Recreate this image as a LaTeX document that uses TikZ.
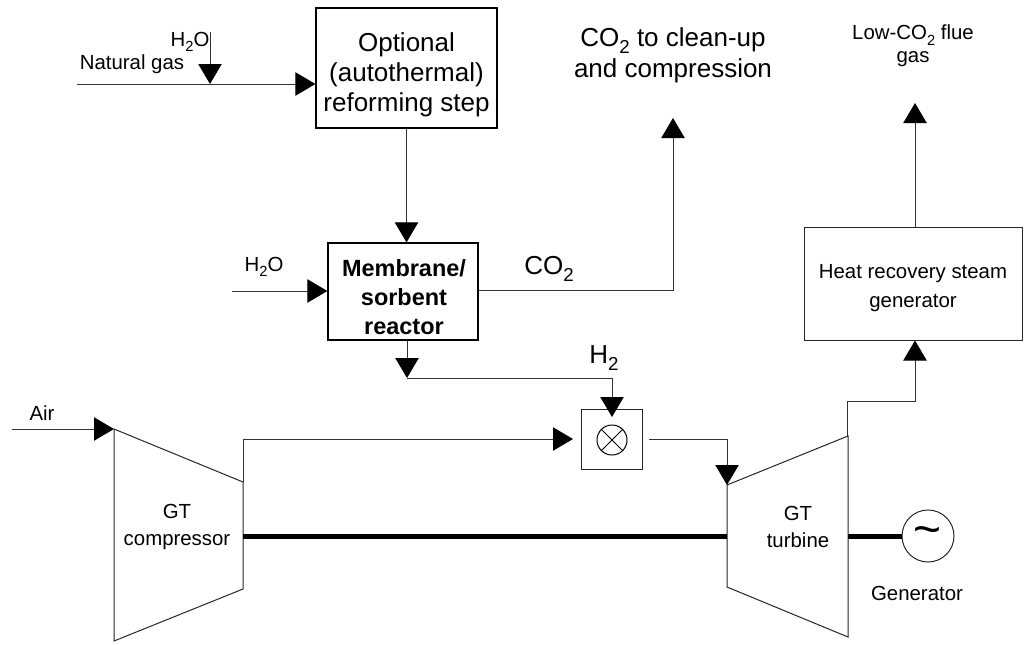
\documentclass[tikz,border=0pt]{standalone}
\usepackage{fontspec}
\setmainfont{Liberation Sans}
\usetikzlibrary{arrows.meta}
% chemical subscript, set low as in the flow-sheet labels
\newcommand\dn[1]{\raisebox{-0.28em}{\scalebox{0.72}{#1}}}
\begin{document}
\begin{tikzpicture}[x=0.75pt,y=-0.75pt,
  flow/.style={draw=black!80,line width=0.75pt,-{Triangle[length=15pt,width=17.5pt,color=black]}},
  unit/.style={draw=black,line width=0.9pt,inner sep=0pt},
  thin unit/.style={draw=black!85,line width=0.75pt,inner sep=0pt},
  machine/.style={draw=black!85,line width=0.75pt},
  small/.style={font=\fontsize{15.3}{20}\selectfont,align=center},
  big/.style={font=\fontsize{19.5}{22.5}\selectfont,align=center},
  shaft/.style={line width=3.75pt}]
\useasboundingbox (0,0) rectangle (1024,644);

% process units
\node[unit,minimum width=135.75pt,minimum height=90pt] (reformer) at (406.5,68) {};
\node[big] (reformertext) at (406.5,75) {Optional\\(autothermal)\\reforming step};
\node[unit,minimum width=112.5pt,minimum height=72.75pt] (reactor) at (403,291.5) {};
\node[font=\fontsize{17.6}{21.75}\selectfont\bfseries,align=center] (reactortext) at (404,297)
  {Membrane/\\sorbent\\reactor};
\node[thin unit,minimum width=163.5pt,minimum height=84.75pt] (hrsg) at (913,283.5) {};
\node[font=\fontsize{15.3}{21.5}\selectfont,align=center] (hrsgtext) at (913,288)
  {Heat recovery steam\\generator};
\node[thin unit,minimum width=45.75pt,minimum height=45pt] (mixer) at (611.5,439) {};
\node[draw=black,line width=0.75pt,circle,minimum size=22.5pt,inner sep=0pt] (burner) at (612,440) {};
\draw[line width=0.75pt] (burner.north west) -- (burner.south east)
  (burner.north east) -- (burner.south west);
\node[draw=black!85,line width=0.75pt,circle,minimum size=39pt,inner sep=0pt,
  font=\fontsize{36}{36}\selectfont] (gen) at (928,536) {\raisebox{-0.12em}{\textasciitilde}};

% gas turbine compressor and turbine
\coordinate (c1) at (114,429);
\coordinate (c2) at (243,482);
\coordinate (c3) at (243,589);
\coordinate (c4) at (114,641);
\draw[machine] (c1) -- (c2) -- (c3) -- (c4) -- cycle;
\coordinate (t1) at (727,485);
\coordinate (t2) at (848,436);
\coordinate (t3) at (848,637);
\coordinate (t4) at (727,587);
\draw[machine] (t1) -- (t2) -- (t3) -- (t4) -- cycle;

% shafts
\draw[shaft] (243,536) -- (727,536);
\draw[shaft] (848,536) -- (gen.west);

% labels
\node[small] (h2otop) at (190,42) {H\dn{2}O};
\node[small] (ng) at (132,64) {Natural gas};
\node[small] (h2oleft) at (264,267) {H\dn{2}O};
\node[big] (co2lab) at (549,269) {CO\dn{2}};
\node[big] (h2lab) at (604,358) {H\dn{2}};
\node[big,font=\fontsize{19.5}{23.5}\selectfont] (co2out) at (673,55) {CO\dn{2} to clean-up\\and compression};
\node[small,font=\fontsize{15.3}{17.5}\selectfont] (flue) at (913,46) {Low-CO\dn{2} flue\\gas};
\node[small] (air) at (42,413) {Air};
\node[small,font=\fontsize{15.3}{20}\selectfont] (comp) at (177,527) {GT\\compressor};
\node[small,font=\fontsize{15.3}{20}\selectfont] (turb) at (798,527) {GT\\turbine};
\node[small] (genlab) at (917,593) {Generator};

% feed streams
\coordinate (ngin) at (77,84);
\coordinate (h2oin) at (210,32);
\draw[flow] (ngin) -- (ngin -| reformer.west);
\draw[flow] (h2oin) -- (h2oin |- ngin);
\draw[flow] (reformer.south) -- (reformer.south |- reactor.north);
\coordinate (steamin) at (232,291);
\draw[flow] (steamin) -- (steamin -| reactor.west);

% CO2 product
\coordinate (co2top) at (673,118);
\draw[flow] (reactor.east |- 0,290) -- (co2top |- 0,290) -- (co2top);

% H2 to combustor
\coordinate (h2drop) at (407,378);
\coordinate (h2in) at (612,417);
\draw[flow] (reactor.south -| h2drop) -- (h2drop);
\draw[flow] (h2drop) -- (h2drop -| h2in) -- (h2in);

% air and compressed air
\coordinate (airin) at (12,429);
\draw[flow] (airin) -- (c1);
\coordinate (mixin) at (573,439);
\draw[flow] (c2) -- (243,439) -- (mixin);

% hot gas to turbine
\coordinate (mixout) at (649,439);
\draw[flow] (mixout) -- (mixout -| t1) -- (t1);

% exhaust to HRSG and stack
\draw[flow] (847,436) -- (847,401) -- (915,401) -- (hrsg.south -| 915,0);
\coordinate (stack) at (915,103);
\draw[flow] (hrsg.north -| stack) -- (stack);
\end{tikzpicture}
\end{document}
